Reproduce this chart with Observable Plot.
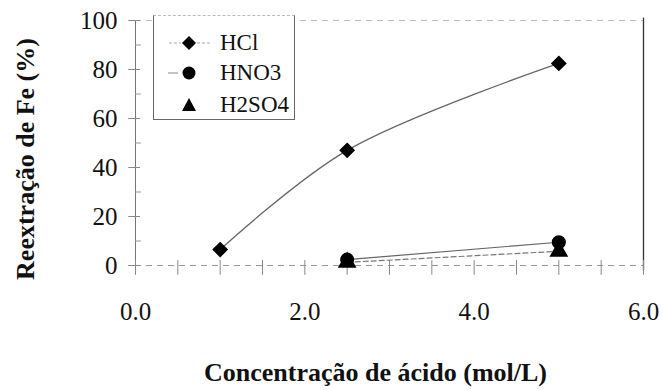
<!DOCTYPE html>
<html>
<head>
<meta charset="utf-8">
<script src="https://cdn.jsdelivr.net/npm/d3@7"></script>
<script src="https://cdn.jsdelivr.net/npm/@observablehq/plot@0.6"></script>
<style>
  body { margin: 0; background: #fff; }
  #wrap { position: relative; width: 662px; height: 390px; font-family: "Liberation Serif", "Times New Roman", Tinos, "DejaVu Serif", serif; }
  #wrap svg text { font-family: "Liberation Serif", "Times New Roman", Tinos, "DejaVu Serif", serif; }
  #legend { position: absolute; left: 153px; top: 15px; width: 142px; height: 105px; border: 1px solid #666; border-top: 1px dashed #bbb; box-sizing: border-box; background: #fff; }
  .item { position: absolute; left: 0; height: 30px; display: flex; align-items: center; }
  .item svg { width: 64px; height: 30px; }
  .item span { font-size: 23px; color: #111; margin-left: 2px; }
</style>
</head>
<body>
<div id="wrap"></div>
<script>
const concHCl = [1, 2.5, 5];
const HCl = [6.5, 47, 82.5];
const concOther = [2.5, 5];
const HNO3 = [2.4, 9.5];
const H2SO4 = [1.3, 5.8];
const xTickLabels = [0, 2, 4, 6];
const xMinorTicks = [0, 0.5, 1, 1.5, 2, 2.5, 3, 3.5, 4, 4.5, 5, 5.5, 6];
const yTickLabels = [0, 20, 40, 60, 80, 100];
const yMinorTicks = [10, 30, 50, 70, 90];
const seriesNames = ["HCl", "HNO3", "H2SO4"];
const xTitle = "Concentração de ácido (mol/L)";
const yTitle = "Reextração de Fe (%)";

const hcl = concHCl.map((x, i) => ({x, y: HCl[i]}));
const hno3 = concOther.map((x, i) => ({x, y: HNO3[i]}));
const h2so4 = concOther.map((x, i) => ({x, y: H2SO4[i]}));

const font = '"Liberation Serif", "Times New Roman", Tinos, "DejaVu Serif", serif';
const chart = Plot.plot({
  width: 662,
  height: 390,
  marginLeft: 135,
  marginRight: 19,
  marginTop: 20,
  marginBottom: 125,
  style: {fontFamily: font, background: "#fff", color: "#111"},
  x: {domain: [0, 6]},
  y: {domain: [0, 100]},
  marks: [
    Plot.ruleY([0], {stroke: "#999", strokeDasharray: "6,5", strokeWidth: 1}),
    Plot.ruleY([100], {stroke: "#bbb", strokeDasharray: "6,5", strokeWidth: 1}),
    Plot.ruleX([0], {stroke: "#777", strokeWidth: 1}),
    Plot.ruleX([6], {y1: -2, y2: 101, stroke: "#333", strokeWidth: 1.3}),
    Plot.ruleX(xMinorTicks, {x: d => d, y1: -4, y2: 2, stroke: "#888"}),
    Plot.ruleY(yTickLabels, {y: d => d, x1: -0.08, x2: 0.06, stroke: "#888"}),
    Plot.ruleY(yMinorTicks, {y: d => d, x1: 0, x2: 0.07, stroke: "#999"}),
    Plot.axisX({ticks: xTickLabels, tickFormat: d3.format(".1f"), tickSize: 0, tickPadding: 37, fontSize: 25, label: null, fill: "#111"}),
    Plot.axisY({ticks: yTickLabels, tickSize: 0, tickPadding: 18, fontSize: 25, label: null, fill: "#111"}),
    Plot.text([yTitle], {frameAnchor: "left", dx: -110, dy: 16, rotate: -90, textAnchor: "middle", lineAnchor: "middle", fontSize: 26, fontWeight: "bold", fill: "#111", text: d => d}),
    Plot.text([xTitle], {frameAnchor: "bottom", dy: 107, dx: -14, textAnchor: "middle", lineAnchor: "middle", fontSize: 26, fontWeight: "bold", fill: "#111", text: d => d}),
    Plot.line(hcl, {x: "x", y: "y", curve: "catmull-rom", stroke: "#666", strokeWidth: 1.3}),
    Plot.line(hno3, {x: "x", y: "y", stroke: "#666", strokeWidth: 1.2}),
    Plot.line(h2so4, {x: "x", y: "y", stroke: "#777", strokeWidth: 1.2, strokeDasharray: "5,3"}),
    Plot.dot(hcl, {x: "x", y: "y", symbol: "diamond2", r: 6.2, fill: "#000", stroke: "#000"}),
    Plot.dot(h2so4, {x: "x", y: "y", symbol: "triangle", r: 6, fill: "#000", stroke: "#000"}),
    Plot.dot(hno3, {x: "x", y: "y", symbol: "circle", r: 6.3, fill: "#000", stroke: "#000"})
  ]
});

const wrap = document.getElementById("wrap");
wrap.appendChild(chart);

const legend = document.createElement("div");
legend.id = "legend";
const shapes = [
  `<line x1="15" x2="27" y1="15" y2="15" stroke="#aaa" stroke-dasharray="3,2"/><line x1="43" x2="56" y1="15" y2="15" stroke="#aaa" stroke-dasharray="3,2"/><path d="M35,8 L42,15 L35,22 L28,15 Z" fill="#000"/>`,
  `<line x1="14" x2="24" y1="15" y2="15" stroke="#888"/><circle cx="35" cy="15" r="6.5" fill="#000"/>`,
  `<path d="M35,8 L42,21 L28,21 Z" fill="#000"/>`
];
const tops = [12, 42, 74];
seriesNames.forEach((name, i) => {
  const it = document.createElement("div");
  it.className = "item";
  it.style.top = tops[i] + "px";
  it.innerHTML = `<svg viewBox="0 0 64 30">${shapes[i]}</svg><span>${name}</span>`;
  legend.appendChild(it);
});
wrap.appendChild(legend);
</script>
</body>
</html>
